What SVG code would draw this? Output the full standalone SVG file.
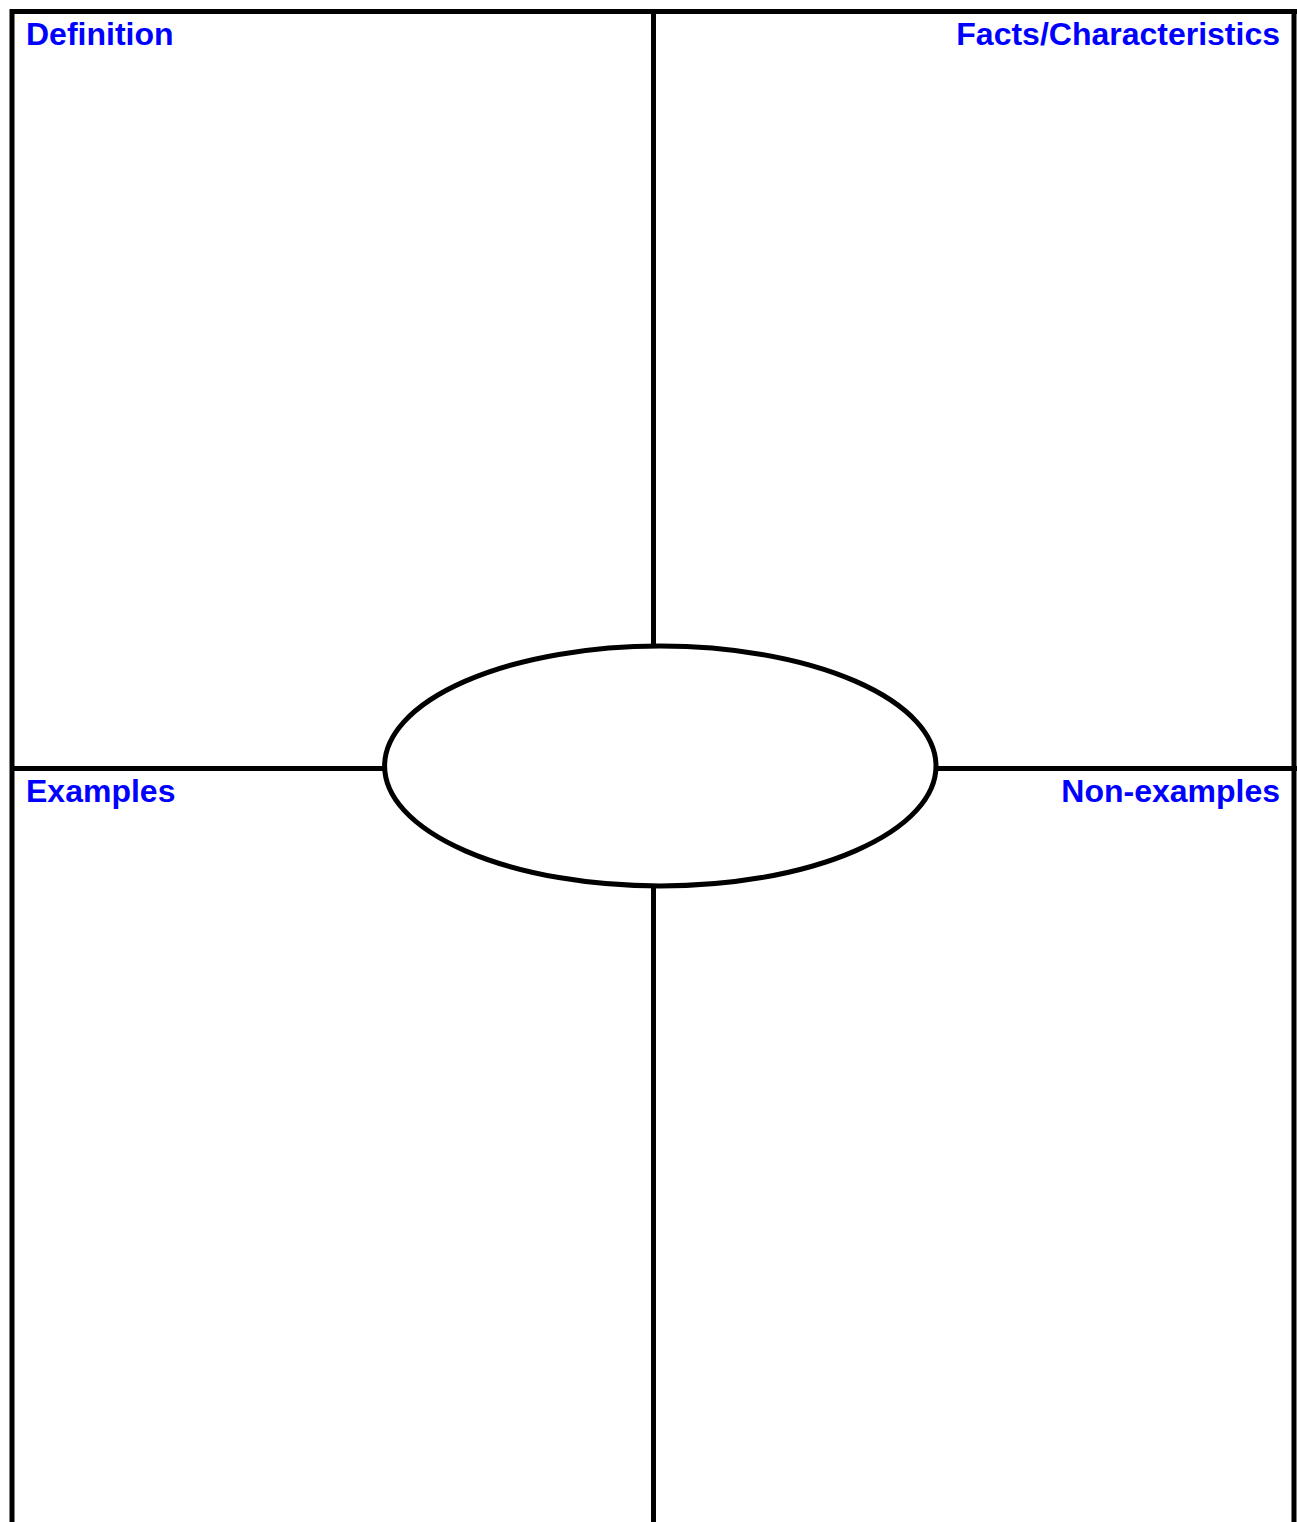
<svg xmlns="http://www.w3.org/2000/svg" width="1297" height="1522" viewBox="0 0 1297 1522">
<style>
.ln{stroke:#000;stroke-width:5;fill:none}
.lbl{font-family:"Liberation Sans",Arial,sans-serif;font-weight:bold;font-size:32px;fill:#0000FF}
</style>
<rect width="1297" height="1522" fill="#fff"/>
<g id="connectors">
<line class="ln" x1="12" y1="11.5" x2="1297" y2="11.5"/>
<line class="ln" x1="12" y1="9" x2="12" y2="1522"/>
<line class="ln" x1="1294" y1="9" x2="1294" y2="1522"/>
<line class="ln" x1="653.5" y1="11.5" x2="653.5" y2="646"/>
<line class="ln" x1="653.5" y1="886" x2="653.5" y2="1522"/>
<line class="ln" x1="12" y1="768.5" x2="384" y2="768.5"/>
<line class="ln" x1="936" y1="768.5" x2="1297" y2="768.5"/>
</g>
<g id="center"><ellipse class="ln" cx="660.3" cy="766" rx="275.7" ry="120" fill="#fff"/></g>
<g id="definition"><text class="lbl" x="26" y="45">Definition</text></g>
<g id="facts"><text class="lbl" x="1280" y="45" text-anchor="end">Facts/Characteristics</text></g>
<g id="examples"><text class="lbl" x="26" y="802">Examples</text></g>
<g id="nonexamples"><text class="lbl" x="1280" y="802" text-anchor="end">Non-examples</text></g>
</svg>
